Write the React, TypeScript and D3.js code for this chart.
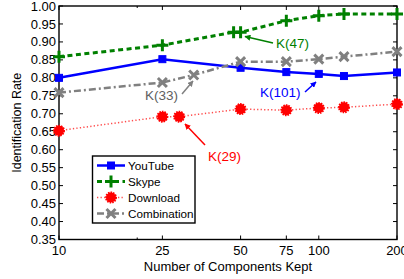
import React, { useRef, useEffect } from "react";
import * as d3 from "d3";

const xTicks = [10, 25, 50, 75, 100, 200];
const yTicks = [0.35, 0.4, 0.45, 0.5, 0.55, 0.6, 0.65, 0.7, 0.75, 0.8, 0.85, 0.9, 0.95, 1.0];

const youtubeK = [10, 25, 50, 75, 100, 125, 200];
const youtubeRate = [0.8, 0.852, 0.828, 0.816, 0.811, 0.805, 0.815];

const skypeK = [10, 25, 47, 50, 75, 100, 125, 200];
const skypeRate = [0.859, 0.891, 0.927, 0.927, 0.959, 0.973, 0.978, 0.978];

const downloadK = [10, 25, 29, 50, 75, 100, 125, 200];
const downloadRate = [0.653, 0.692, 0.692, 0.713, 0.71, 0.716, 0.718, 0.727];

const combinationK = [10, 25, 33, 50, 75, 100, 125, 200];
const combinationRate = [0.759, 0.787, 0.808, 0.845, 0.845, 0.852, 0.859, 0.873];

const FONT = "'Liberation Sans', Arial, Helvetica, sans-serif";

const App = () => {
  const svgRef = useRef<SVGSVGElement>(null);

  useEffect(() => {
    const width = 404, height = 279;
    const margin = { top: 6, right: 7, bottom: 40, left: 59 };
    const svg = d3.select(svgRef.current);
    svg.selectAll("*").remove();

    const x = d3.scaleLog().domain([10, 200]).range([margin.left, width - margin.right]);
    const y = d3.scaleLinear().domain([0.35, 1.0]).range([height - margin.bottom + 0.5, margin.top]);

    const x0 = x.range()[0], x1 = x.range()[1];
    const y0 = y.range()[0], y1 = y.range()[1];

    // axis box
    svg.append("rect")
      .attr("x", x0).attr("y", y1)
      .attr("width", x1 - x0).attr("height", y0 - y1)
      .attr("fill", "white").attr("stroke", "black").attr("stroke-width", 1.4);

    const ticks = svg.append("g").attr("stroke", "black").attr("stroke-width", 1);
    xTicks.forEach(t => {
      ticks.append("line").attr("x1", x(t)).attr("x2", x(t)).attr("y1", y0).attr("y2", y0 - 4);
      ticks.append("line").attr("x1", x(t)).attr("x2", x(t)).attr("y1", y1).attr("y2", y1 + 4);
    });
    [20].forEach(t => {
      ticks.append("line").attr("x1", x(t)).attr("x2", x(t)).attr("y1", y0).attr("y2", y0 - 2);
      ticks.append("line").attr("x1", x(t)).attr("x2", x(t)).attr("y1", y1).attr("y2", y1 + 2);
    });
    yTicks.forEach(t => {
      ticks.append("line").attr("x1", x0).attr("x2", x0 + 4).attr("y1", y(t)).attr("y2", y(t));
      ticks.append("line").attr("x1", x1).attr("x2", x1 - 4).attr("y1", y(t)).attr("y2", y(t));
    });

    svg.append("g").selectAll("text").data(yTicks).enter().append("text")
      .attr("x", x0 - 3).attr("y", d => y(d)).attr("dy", "0.35em")
      .attr("text-anchor", "end").attr("font-family", FONT).attr("font-size", 13)
      .text(d => d3.format(".2f")(d));

    svg.append("g").selectAll("text").data(xTicks).enter().append("text")
      .attr("x", d => x(d)).attr("y", 255)
      .attr("text-anchor", "middle").attr("font-family", FONT).attr("font-size", 13)
      .text(d => d);

    svg.append("text")
      .attr("x", (x0 + x1) / 2).attr("y", 271)
      .attr("text-anchor", "middle").attr("font-family", FONT).attr("font-size", 13)
      .text("Number of Components Kept");

    svg.append("text")
      .attr("transform", `translate(21, ${(y0 + y1) / 2}) rotate(-90)`)
      .attr("text-anchor", "middle").attr("font-family", FONT).attr("font-size", 12.5)
      .text("Identification Rate");

    const series = [
      { name: "YouTube", k: youtubeK, v: youtubeRate, color: "#0000ff", lineColor: "#0000ff", width: 2.5, dash: null, marker: "square" },
      { name: "Skype", k: skypeK, v: skypeRate, color: "#008000", lineColor: "#008000", width: 3, dash: "5 3.5", marker: "plus" },
      { name: "Download", k: downloadK, v: downloadRate, color: "#ff0000", lineColor: "#ff4d4d", width: 1.5, dash: "1.3 2.2", marker: "circle" },
      { name: "Combination", k: combinationK, v: combinationRate, color: "#808080", lineColor: "#808080", width: 2.5, dash: "7 3 2 3", marker: "cross" },
    ];

    const drawMarker = (g, type, color, cx, cy) => {
      if (type === "square") {
        g.append("rect").attr("x", cx - 3.5).attr("y", cy - 3.5).attr("width", 7).attr("height", 7)
          .attr("fill", color).attr("stroke", color).attr("stroke-width", 1);
      } else if (type === "plus") {
        g.append("path").attr("d", `M${cx - 6},${cy}H${cx + 6}M${cx},${cy - 6}V${cy + 6}`)
          .attr("stroke", color).attr("stroke-width", 3).attr("fill", "none");
      } else if (type === "circle") {
        g.append("circle").attr("cx", cx).attr("cy", cy).attr("r", 5)
          .attr("fill", color).attr("stroke", color).attr("stroke-width", 2).attr("stroke-dasharray", "1.5 1");
      } else {
        g.append("path").attr("d", `M${cx - 4.5},${cy - 4.5}L${cx + 4.5},${cy + 4.5}M${cx - 4.5},${cy + 4.5}L${cx + 4.5},${cy - 4.5}`)
          .attr("stroke", color).attr("stroke-width", 3).attr("fill", "none");
      }
    };

    const line = d3.line<[number, number]>().x(d => x(d[0])).y(d => y(d[1]));

    series.forEach(s => {
      const pts = s.k.map((k, i) => [k, s.v[i]] as [number, number]);
      const g = svg.append("g");
      g.append("path").attr("d", line(pts)).attr("fill", "none")
        .attr("stroke", s.lineColor).attr("stroke-width", s.width)
        .attr("stroke-dasharray", s.dash);
      pts.forEach(p => drawMarker(g, s.marker, s.color, x(p[0]), y(p[1])));
    });

    // annotations
    svg.append("defs").selectAll("marker")
      .data(["#008000", "#808080", "#0000ff", "#ff0000"]).enter().append("marker")
      .attr("id", (d, i) => `arrow${i}`)
      .attr("viewBox", "0 0 10 10").attr("refX", 9).attr("refY", 5)
      .attr("markerWidth", 4).attr("markerHeight", 4).attr("orient", "auto")
      .append("path").attr("d", "M0,0L10,5L0,10z").attr("fill", d => d);

    const notes = [
      { text: "K(47)", color: "#008000", tx: 276, ty: 48, from: [273, 43], to: [245, 36.5], id: 0 },
      { text: "K(33)", color: "#606060", tx: 145, ty: 100, from: [182, 94], to: [193, 81], id: 1 },
      { text: "K(101)", color: "#0000ff", tx: 260, ty: 97, from: [305, 92], to: [316, 82], id: 2 },
      { text: "K(29)", color: "#ff0000", tx: 208, ty: 161, from: [205, 145], to: [185, 124], id: 3 },
    ];
    notes.forEach(n => {
      svg.append("line").attr("x1", n.from[0]).attr("y1", n.from[1]).attr("x2", n.to[0]).attr("y2", n.to[1])
        .attr("stroke", n.id === 1 ? "#808080" : n.color).attr("stroke-width", 1.5)
        .attr("marker-end", `url(#arrow${n.id})`);
      svg.append("text").attr("x", n.tx).attr("y", n.ty).attr("fill", n.color)
        .attr("font-family", FONT).attr("font-size", 13.5).text(n.text);
    });

    // legend
    const lg = svg.append("g");
    lg.append("rect").attr("x", 92.5).attr("y", 156).attr("width", 102.5).attr("height", 67)
      .attr("fill", "white").attr("stroke", "black").attr("stroke-width", 1.4);
    series.forEach((s, i) => {
      const ly = 165.5 + i * 16;
      lg.append("line").attr("x1", 97).attr("x2", 125).attr("y1", ly).attr("y2", ly)
        .attr("stroke", s.lineColor).attr("stroke-width", s.width).attr("stroke-dasharray", s.dash);
      drawMarker(lg, s.marker, s.color, 111, ly);
      lg.append("text").attr("x", 128).attr("y", ly).attr("dy", "0.35em")
        .attr("font-family", FONT).attr("font-size", 11.7).text(s.name);
    });
  }, []);

  return (
    <svg ref={svgRef} width={404} height={279}
      style={{ position: "absolute", left: 0, top: 0, background: "white" }} />
  );
};

export default App;
